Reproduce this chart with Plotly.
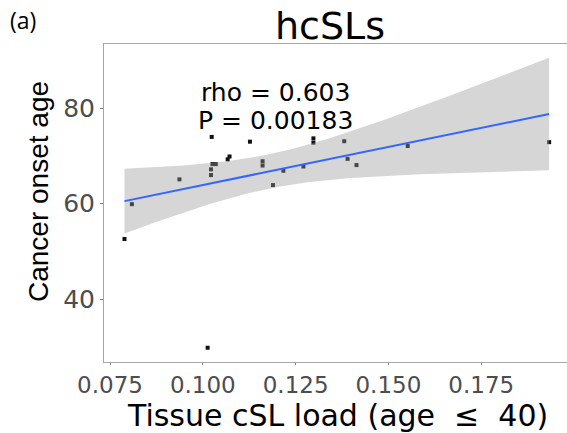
import numpy as np
import plotly.graph_objects as go

# ---- data ----
tissue_csl_load = [0.0789, 0.0809, 0.0937, 0.1013, 0.1024, 0.1026, 0.1035, 0.1022,
                   0.1022, 0.1067, 0.1072, 0.1127, 0.1161, 0.1161, 0.1189, 0.1217,
                   0.1271, 0.1298, 0.1298, 0.1381, 0.1390, 0.1414, 0.1552, 0.1933]
cancer_onset_age = [52.6, 59.9, 65.1, 29.8, 74.0, 68.3, 68.3, 67.2,
                    66.0, 69.3, 69.9, 73.0, 68.9, 68.0, 63.9, 66.9,
                    67.8, 73.7, 72.8, 73.1, 69.4, 68.1, 72.1, 72.9]
x_ticks = [0.075, 0.100, 0.125, 0.150, 0.175]
x_tick_labels = ["0.075", "0.100", "0.125", "0.150", "0.175"]
y_ticks = [40, 60, 80]
y_tick_labels = ["40", "60", "80"]
title_text = "hcSLs"
panel_label = "(a)"
stat_lines = ["rho = 0.603", "P = 0.00183"]
x_title = "Tissue cSL load (age\u00a0\u00a0\u2264\u00a0\u00a040)"
y_title = "Cancer onset age"

# ---- linear fit with 95% confidence band (like geom_smooth(method='lm')) ----
X = np.array(tissue_csl_load)
Y = np.array(cancer_onset_age)
n = len(X)
mx, my = X.mean(), Y.mean()
sxx = ((X - mx) ** 2).sum()
b1 = ((X - mx) * (Y - my)).sum() / sxx
b0 = my - b1 * mx
resid = Y - (b0 + b1 * X)
s = np.sqrt((resid ** 2).sum() / (n - 2))
t_crit = 2.0739  # t(0.975, df=22)
xg = np.linspace(X.min(), X.max(), 80)
yg = b0 + b1 * xg
se = s * np.sqrt(1.0 / n + (xg - mx) ** 2 / sxx)
upper = yg + t_crit * se
lower = yg - t_crit * se

FONT = "DejaVu Sans"
W, H = 567, 433
L, R, T, B = 104, 0, 44, 71
pw, ph = W - L - R, H - T - B

def px_x(px):
    return (px - L) / pw

def px_y(py):
    return (H - B - py) / ph

fig = go.Figure()
fig.add_trace(go.Scatter(x=X, y=Y, mode="markers",
                         marker=dict(symbol="square", size=4, color="#111111", line=dict(width=0)),
                         hoverinfo="skip", showlegend=False))
fig.add_trace(go.Scatter(x=np.concatenate([xg, xg[::-1]]), y=np.concatenate([upper, lower[::-1]]),
                         fill="toself", fillcolor="rgba(153,153,153,0.4)", mode="lines",
                         line=dict(width=0), hoverinfo="skip", showlegend=False))
fig.add_trace(go.Scatter(x=xg, y=yg, mode="lines", line=dict(color="#3366FF", width=2),
                         hoverinfo="skip", showlegend=False))

annotations = [
    dict(text=title_text, xref="paper", yref="paper", x=px_x(330), y=px_y(26),
         xanchor="center", yanchor="middle", showarrow=False, font=dict(family=FONT, size=38, color="black")),
    dict(text=panel_label, xref="paper", yref="paper", x=px_x(8), y=px_y(20),
         xanchor="left", yanchor="middle", showarrow=False, font=dict(family="Open Sans", size=23, color="black")),
    dict(text=x_title, xref="paper", yref="paper", x=px_x(337), y=px_y(415),
         xanchor="center", yanchor="middle", showarrow=False, font=dict(family=FONT, size=30, color="black")),
    dict(text=y_title, xref="paper", yref="paper", x=px_x(38), y=px_y(192), textangle=-90,
         xanchor="center", yanchor="middle", showarrow=False, font=dict(family="Liberation Sans", size=28, color="black")),
    dict(text=stat_lines[0], xref="x", yref="y", x=0.1197, y=83.4,
         xanchor="center", yanchor="middle", showarrow=False, font=dict(family=FONT, size=25, color="black")),
    dict(text=stat_lines[1], xref="x", yref="y", x=0.1197, y=77.5,
         xanchor="center", yanchor="middle", showarrow=False, font=dict(family=FONT, size=25, color="black")),
]

fig.update_layout(
    width=W, height=H,
    margin=dict(l=L, r=R, t=T, b=B),
    paper_bgcolor="white", plot_bgcolor="white",
    showlegend=False,
    annotations=annotations,
    xaxis=dict(range=[0.07338, 0.19811], tickvals=x_ticks, ticktext=x_tick_labels,
               showgrid=False, zeroline=False, showline=True, linecolor="#A6A6A6", linewidth=1,
               mirror=True, ticks="outside", ticklen=2, tickcolor="#7F7F7F",
               tickfont=dict(family=FONT, size=23, color="#4D4D4D")),
    yaxis=dict(range=[26.81, 93.48], tickvals=y_ticks, ticktext=y_tick_labels,
               showgrid=False, zeroline=False, showline=True, linecolor="#A6A6A6", linewidth=1,
               ticks="outside", ticklen=3, tickcolor="#7F7F7F",
               tickfont=dict(family=FONT, size=25, color="#4D4D4D")),
)

fig.write_html("out.html")
